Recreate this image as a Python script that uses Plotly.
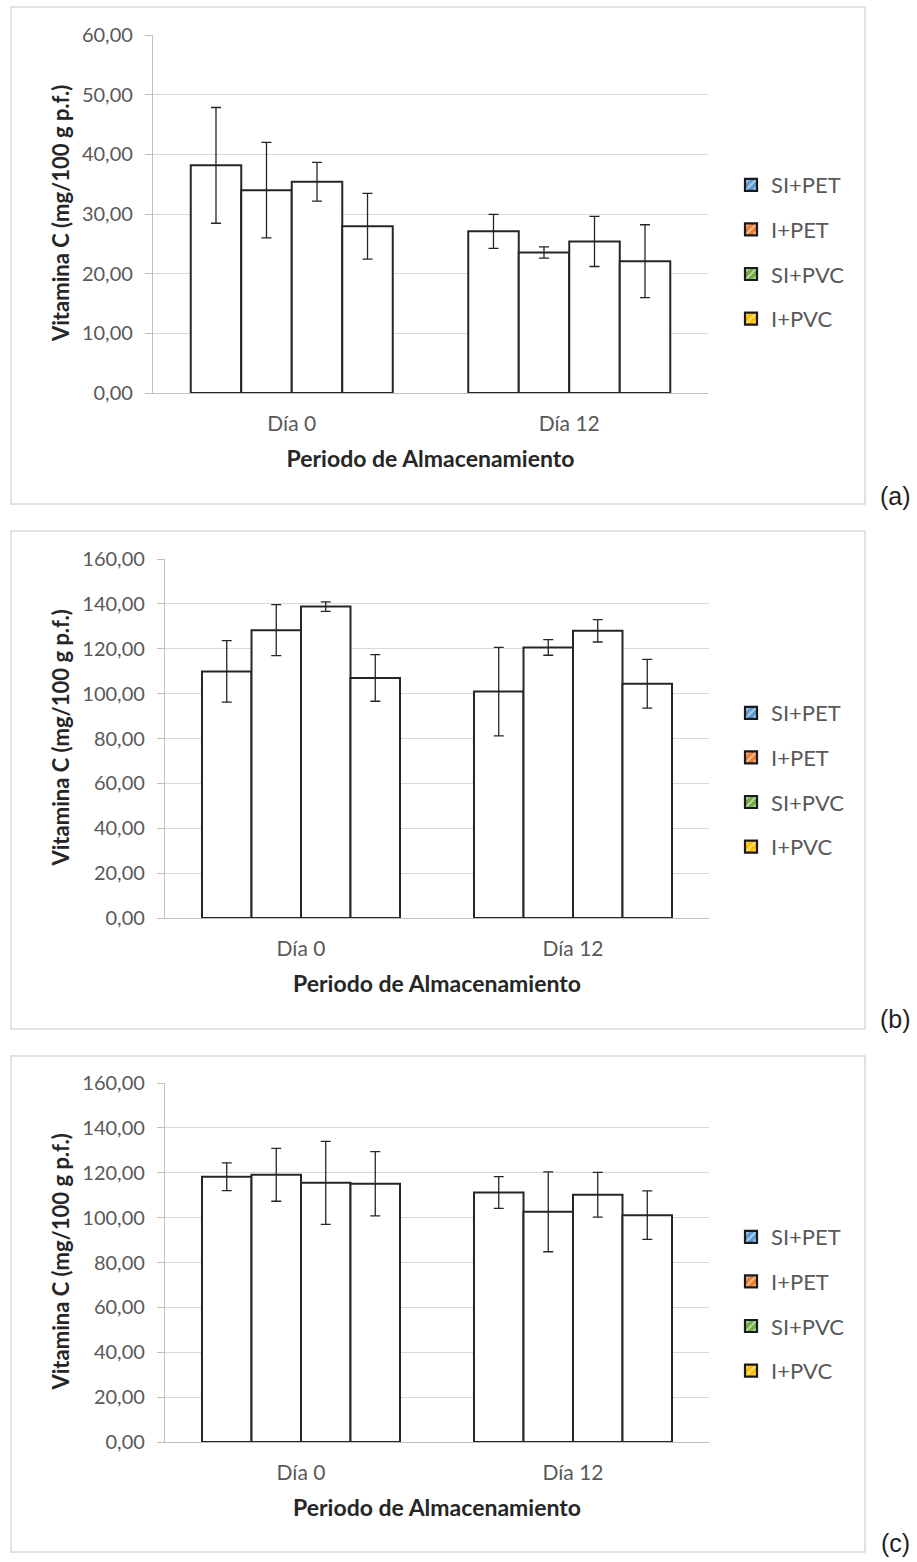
import plotly.graph_objects as go

# Storage period categories
dias = ["Día 0", "Día 12"]

# Treatments (legend order) and their legend swatch colours
tratamientos = ["SI+PET", "I+PET", "SI+PVC", "I+PVC"]
colores = ["#5B9BD5", "#ED7D31", "#70AD47", "#FFC000"]

# Vitamin C (mg/100 g f.w.) per treatment: [Día 0, Día 12]
media_a = {
    "SI+PET": [38.15, 27.1],
    "I+PET": [34.0, 23.55],
    "SI+PVC": [35.4, 25.4],
    "I+PVC": [27.95, 22.1],
}
desv_a = {
    "SI+PET": [9.7, 2.85],
    "I+PET": [8.0, 0.95],
    "SI+PVC": [3.25, 4.2],
    "I+PVC": [5.5, 6.1],
}

media_b = {
    "SI+PET": [109.9, 100.9],
    "I+PET": [128.3, 120.6],
    "SI+PVC": [138.8, 128.0],
    "I+PVC": [107.0, 104.4],
}
desv_b = {
    "SI+PET": [13.7, 19.7],
    "I+PET": [11.4, 3.5],
    "SI+PVC": [2.1, 5.0],
    "I+PVC": [10.4, 10.9],
}

media_c = {
    "SI+PET": [118.2, 111.2],
    "I+PET": [119.1, 102.6],
    "SI+PVC": [115.5, 110.2],
    "I+PVC": [115.1, 101.1],
}
desv_c = {
    "SI+PET": [6.2, 7.1],
    "I+PET": [11.8, 17.8],
    "SI+PVC": [18.5, 10.0],
    "I+PVC": [14.3, 10.8],
}

paneles = [
    ("a", media_a, desv_a, 60, 10),
    ("b", media_b, desv_b, 160, 20),
    ("c", media_c, desv_c, 160, 20),
]

titulo_y = "<b>Vitamina C (mg/100 g p.f.)</b>"
titulo_x = "<b>Periodo de Almacenamiento</b>"

W, H = 917, 1562


def px_x(p):
    return p / W


def px_y(p):
    return 1 - p / H


# Pixel layout of each panel: frame box, plot area, legend anchor,
# y-title centre column and tag position
geom = {
    "a": dict(box=(11, 7, 865, 504), plot=(153, 35, 708, 393), leg=(731, 164), ytit=60, tag=(895, 512)),
    "b": dict(box=(11, 531, 865, 1029), plot=(165, 559, 709, 918), leg=(731, 692), ytit=60, tag=(895, 1035)),
    "c": dict(box=(11, 1056, 865, 1552), plot=(165, 1083, 709, 1442), leg=(731, 1216), ytit=60, tag=(895, 1559)),
}

FONT = "Lato"
GRIS = "#595959"
NEGRO = "#262626"

fig = go.Figure()
layout = dict(
    width=W,
    height=H,
    margin=dict(l=0, r=0, t=0, b=0, autoexpand=False),
    paper_bgcolor="white",
    plot_bgcolor="white",
    barmode="group",
    bargap=0.272,
    bargroupgap=0,
    separators=",.",
    font=dict(family=FONT, color=GRIS),
    shapes=[],
    annotations=[],
)

for i, (tag, medias, desvs, ymax, dtick) in enumerate(paneles):
    n = "" if i == 0 else str(i + 1)
    xa, ya = "x" + n, "y" + n
    leg = "legend" + n
    g = geom[tag]
    x0, y0, x1, y1 = g["plot"]

    for t, c in zip(tratamientos, colores):
        fig.add_trace(go.Bar(
            x=dias, y=medias[t], name=t, xaxis=xa, yaxis=ya,
            marker=dict(color="white", line=dict(color=NEGRO, width=2)),
            error_y=dict(type="data", array=desvs[t], visible=True,
                         color=NEGRO, thickness=1.3, width=5),
            showlegend=False, hoverinfo="skip",
        ))

    layout["xaxis" + n] = dict(
        domain=[px_x(x0), px_x(x1)], anchor=ya,
        showline=True, linecolor="#BFBFBF", linewidth=1.3,
        ticks="", showgrid=False, ticklabelstandoff=12,
        tickfont=dict(family=FONT, size=21, color=GRIS),
        title=dict(text=titulo_x,
                   font=dict(family=FONT, size=23, color=NEGRO), standoff=16),
        fixedrange=True,
    )
    layout["yaxis" + n] = dict(
        domain=[px_y(y1), px_y(y0)], anchor=xa,
        range=[0, ymax], dtick=dtick, tickformat=".2f",
        showline=True, linecolor="#BFBFBF", linewidth=1.3,
        ticks="outside", ticklen=7, tickcolor="#BFBFBF", tickwidth=1.3,
        ticklabelstandoff=8,
        showgrid=True, gridcolor="#D9D9D9", gridwidth=1.3, zeroline=False,
        tickfont=dict(family=FONT, size=20, color=GRIS),
        fixedrange=True,
    )

    # Rotated y title, centred on the plot height
    layout["annotations"].append(dict(
        text=titulo_y, xref="paper", yref="paper", textangle=-90,
        x=px_x(g["ytit"]), y=px_y((y0 + y1) / 2),
        xanchor="center", yanchor="middle", showarrow=False,
        font=dict(family=FONT, size=22, color=NEGRO),
    ))

    lx, ly = g["leg"]
    layout[leg] = dict(
        x=px_x(lx), y=px_y(ly), xanchor="left", yanchor="top",
        bgcolor="rgba(0,0,0,0)", borderwidth=0,
        font=dict(family=FONT, size=22, color=GRIS),
        traceorder="grouped", tracegroupgap=13,
    )

    bx0, by0, bx1, by1 = g["box"]
    layout["shapes"].append(dict(
        type="rect", xref="paper", yref="paper",
        x0=px_x(bx0), x1=px_x(bx1), y0=px_y(by1), y1=px_y(by0),
        line=dict(color="#D9D9D9", width=1.5), fillcolor="rgba(0,0,0,0)",
        layer="below",
    ))
    tx, ty = g["tag"]
    layout["annotations"].append(dict(
        text="(" + tag + ")", xref="paper", yref="paper",
        x=px_x(tx), y=px_y(ty), xanchor="center", yanchor="bottom",
        showarrow=False,
        font=dict(family="Liberation Sans", size=25, color="#231F20"),
    ))

# Legend swatches: coloured keys with a white diagonal hatch, kept on a hidden axis pair
layout["xaxis4"] = dict(domain=[0, 0.001], visible=False, anchor="y4")
layout["yaxis4"] = dict(domain=[0, 0.001], visible=False, anchor="x4")
for i in range(3):
    leg = "legend" + ("" if i == 0 else str(i + 1))
    for t, c in zip(tratamientos, colores):
        fig.add_trace(go.Bar(
            x=[None], y=[None], name=t, xaxis="x4", yaxis="y4",
            legend=leg, legendgroup=leg + t,
            marker=dict(color=c, line=dict(color="#1A1A1A", width=2.2),
                        pattern=dict(shape="/", fgcolor="white", bgcolor=c,
                                     size=7, solidity=0.35)),
            hoverinfo="skip",
        ))

fig.update_layout(**layout)
fig.write_html("out.html")
